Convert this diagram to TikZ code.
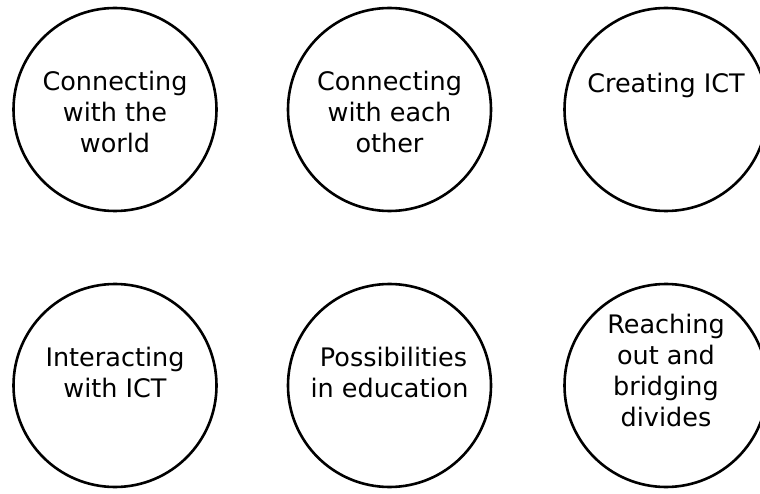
\documentclass[tikz,border=0pt]{standalone}
\usepackage{fontspec}
\setmainfont{DejaVu Sans}
\begin{document}
\begin{tikzpicture}[x=1pt,y=-1pt,
  ring/.style={draw=black, line width=2.6pt, circle, minimum size=203pt, inner sep=0pt},
  lbl/.style={align=center, inner sep=0pt, font=\fontsize{25.5}{31}\selectfont,
    execute at begin node=\strut, execute at end node=\strut}]
\useasboundingbox (0,0) rectangle (760,494);
\node[ring] (c1) at (115,109.5) {};
\node[ring] (c2) at (389.5,109.5) {};
\node[ring] (c3) at (666,109.5) {};
\node[ring] (c4) at (115,385.5) {};
\node[ring] (c5) at (389.5,385.5) {};
\node[ring] (c6) at (666,385.5) {};
\node[lbl] (t1) at (115,116) {Connecting\\with the\\world};
\node[lbl] (t2) at (389.5,116.5) {Connecting\\with each\\other};
\node[lbl] (t3) at (666,86) {Creating ICT};
\node[lbl] (t4) at (115,376.5) {Interacting\\with ICT};
\node[lbl] (t5) at (389.5,376.5) {\ Possibilities\\in education};
\node[lbl] (t6) at (666,374.5) {Reaching\\out and\\bridging\\divides};
\end{tikzpicture}
\end{document}
